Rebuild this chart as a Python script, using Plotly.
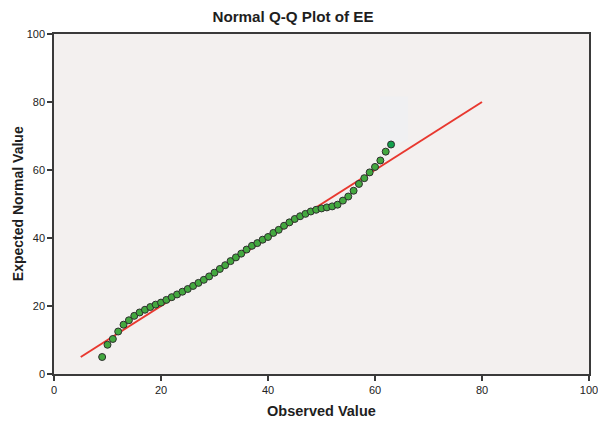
import plotly.graph_objects as go

# Observed values (x) and their expected normal values (y) for EE
observed = list(range(9, 64))
expected = [
    5.0, 8.6, 10.3, 12.5, 14.5, 15.8, 17.1, 18.1, 18.9, 19.7,
    20.4, 21.0, 21.8, 22.6, 23.4, 24.2, 25.0, 25.9, 26.8, 27.7,
    28.7, 29.8, 30.9, 32.0, 33.2, 34.3, 35.4, 36.6, 37.7, 38.5,
    39.5, 40.3, 41.5, 42.4, 43.6, 44.6, 45.6, 46.4, 47.1, 47.8,
    48.3, 48.7, 49.0, 49.3, 49.8, 51.0, 52.2, 53.9, 55.9, 57.6,
    59.3, 60.9, 62.8, 65.4, 67.5,
]

# Reference line y = x
ref_x = [5, 80]
ref_y = [5, 80]

x_ticks = [0, 20, 40, 60, 80, 100]
y_ticks = [0, 20, 40, 60, 80, 100]

FONT = "Arial, 'Liberation Sans', sans-serif"

point_colors = ["#43A83F"] * (len(observed) - 1) + ["#12A04C"]

fig = go.Figure()

fig.add_trace(go.Scatter(
    x=ref_x, y=ref_y, mode="lines",
    line=dict(color="#E8382F", width=2),
    hoverinfo="skip", showlegend=False,
))

fig.add_trace(go.Scatter(
    x=observed, y=expected, mode="markers",
    marker=dict(size=7, color=point_colors,
                line=dict(color="#2E2E2E", width=1)),
    showlegend=False,
))

# faint pale patch in the upper plot area
fig.add_shape(type="rect", xref="x", yref="y",
              x0=60.9, x1=66.2, y0=68.3, y1=81.6,
              fillcolor="#F0F0F2", line=dict(width=0), layer="below")

axis_common = dict(
    showgrid=False, zeroline=False, automargin=False,
    showline=True, linecolor="#3A3A3A", linewidth=1.5, mirror=True,
    ticks="outside", ticklen=5, tickwidth=1.5, tickcolor="#3A3A3A",
    ticklabeloverflow="allow",
    tickfont=dict(family=FONT, size=11, color="#222222"),
)

fig.update_xaxes(range=[0, 100], tickvals=x_ticks, **axis_common)
fig.update_yaxes(range=[0, 100], tickvals=y_ticks, **axis_common)

title_font = dict(family=FONT, size=14.5, color="#1E1E1E")

# axis titles placed as paper annotations
fig.add_annotation(text="<b>Observed Value</b>", xref="paper", yref="paper",
                   x=0.5, y=-0.108, xanchor="center", yanchor="middle",
                   showarrow=False, font=title_font)
fig.add_annotation(text="<b>Expected Normal Value</b>", xref="paper", yref="paper",
                   x=-0.067, y=0.5, xanchor="center", yanchor="middle",
                   textangle=-90, showarrow=False, font=dict(family=FONT, size=14, color="#1E1E1E"))

fig.update_layout(
    width=598, height=421,
    margin=dict(l=54, r=9, t=34, b=47),
    paper_bgcolor="white",
    plot_bgcolor="#F3F0EF",
    title=dict(text="<b>Normal Q-Q Plot of EE</b>", x=0.49, xanchor="center",
               y=0.96, yanchor="middle",
               font=dict(family=FONT, size=15.2, color="#1E1E1E")),
)

fig.write_html("out.html")
